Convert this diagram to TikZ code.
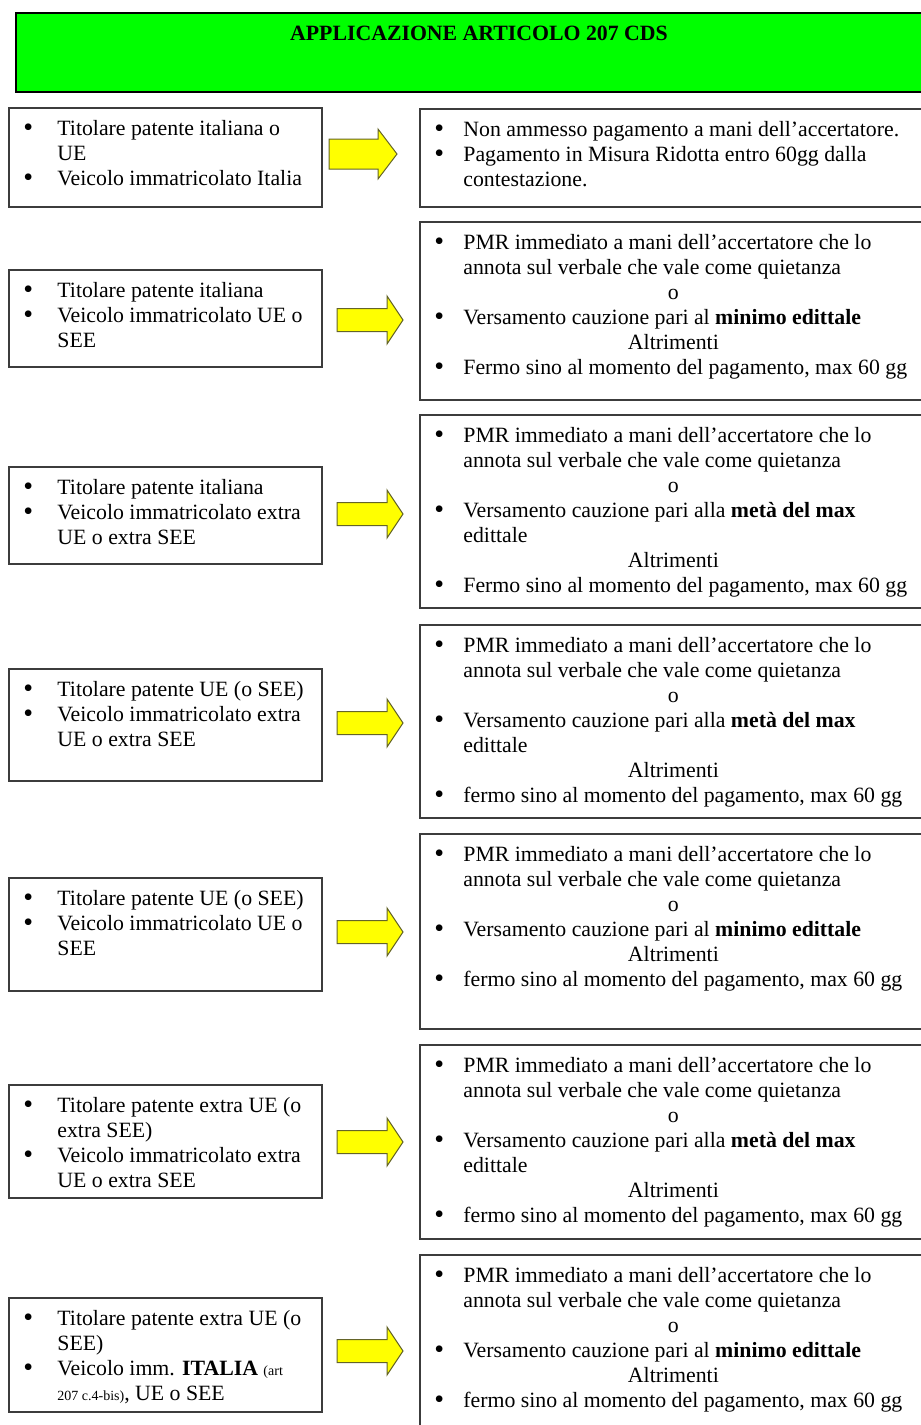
\documentclass[tikz,border=0pt]{standalone}
\usepackage{fontspec}
\setmainfont{Liberation Serif}
\definecolor{titlegreen}{RGB}{0,255,0}
\definecolor{arrowyellow}{RGB}{255,255,0}
\definecolor{arrowedge}{RGB}{100,100,40}
\definecolor{boxedge}{RGB}{60,60,60}
\newcommand\firststrut{\rule{0pt}{8pt}}
\newcommand\bigbul{\raisebox{-0.7pt}{\fontsize{14pt}{12pt}\selectfont •}}
\newcommand\lbul[1]{\makebox[17pt][l]{\bigbul}#1}
\newcommand\lcont[1]{\hspace*{17pt}#1}
\newcommand\rbul[1]{\makebox[14.5pt][l]{\bigbul}#1}
\newcommand\rcont[1]{\hspace*{14.5pt}#1}
\newcommand\midline[1]{\hspace*{119.5pt}\makebox[0pt]{#1}}
\newcommand\smalltxt[1]{{\fontsize{7pt}{8pt}\selectfont #1}}
\newcommand\blockarrow[6]{\draw[blockarr] (#1,{#4-#5}) -- (#2,{#4-#5}) -- (#2,{#4-#6}) -- (#3,#4) -- (#2,{#4+#6}) -- (#2,{#4+#5}) -- (#1,{#4+#5}) -- cycle;}
\begin{document}
\begin{tikzpicture}[x=0.5pt,y=-0.5pt,
  box/.style={draw=boxedge,line width=0.8pt,fill=white,inner sep=0,anchor=north west},
  txt/.style={anchor=north west,align=left,inner sep=0,font=\fontsize{10.9pt}{12.5pt}\selectfont},
  blockarr/.style={fill=arrowyellow,draw=arrowedge,line width=0.5pt,line join=miter}]
\useasboundingbox (0,0) rectangle (921,1425);
\clip (0,0) rectangle (921,1425);
% title
\node[box,fill=titlegreen,draw=black,minimum width=462.5pt,minimum height=39.5pt] (title) at (15,12) {};
\node[anchor=base,inner sep=0,font=\bfseries\fontsize{10.9pt}{12.5pt}\selectfont] (titletext) at (479,40) {APPLICAZIONE ARTICOLO 207 CDS};
% left boxes
\node[box,minimum width=156.5pt,minimum height=49.5pt] (L1) at (8,107) {};
\node[box,minimum width=156.5pt,minimum height=48.5pt] (L2) at (8,269) {};
\node[box,minimum width=156.5pt,minimum height=48.5pt] (L3) at (8,466) {};
\node[box,minimum width=156.5pt,minimum height=56pt] (L4) at (8,668) {};
\node[box,minimum width=156.5pt,minimum height=56.5pt] (L5) at (8,877) {};
\node[box,minimum width=156.5pt,minimum height=56.5pt] (L6) at (8,1084) {};
\node[box,minimum width=156.5pt,minimum height=57pt] (L7) at (8,1297) {};
% right boxes
\node[box,minimum width=260.5pt,minimum height=49pt] (R1) at (419,108) {};
\node[box,minimum width=260.5pt,minimum height=89pt] (R2) at (419,221) {};
\node[box,minimum width=260.5pt,minimum height=96.5pt] (R3) at (419,414) {};
\node[box,minimum width=260.5pt,minimum height=96.5pt] (R4) at (419,624) {};
\node[box,minimum width=260.5pt,minimum height=97.5pt] (R5) at (419,833) {};
\node[box,minimum width=260.5pt,minimum height=97pt] (R6) at (419,1044) {};
\node[box,minimum width=260.5pt,minimum height=93pt] (R7) at (419,1254) {};
% arrows
\blockarrow{329}{378}{397}{154}{15}{25}
\blockarrow{337}{387}{403}{320}{11.5}{24}
\blockarrow{337}{387}{403}{514}{11.5}{24}
\blockarrow{337}{387}{403}{723}{11.5}{24}
\blockarrow{337}{387}{403}{932}{11.5}{24}
\blockarrow{337}{387}{403}{1142}{11.5}{24}
\blockarrow{337}{387}{403}{1351}{11.5}{24}
% left texts
\node[txt] (tL1) at (23,119) {\firststrut\lbul{Titolare patente italiana o}\\\lcont{UE}\\\lbul{Veicolo immatricolato Italia}};
\node[txt] (tL2) at (23,281) {\firststrut\lbul{Titolare patente italiana}\\\lbul{Veicolo immatricolato UE o}\\\lcont{SEE}};
\node[txt] (tL3) at (23,478) {\firststrut\lbul{Titolare patente italiana}\\\lbul{Veicolo immatricolato extra}\\\lcont{UE o extra SEE}};
\node[txt] (tL4) at (23,680) {\firststrut\lbul{Titolare patente UE (o SEE)}\\\lbul{Veicolo immatricolato extra}\\\lcont{UE o extra SEE}};
\node[txt] (tL5) at (23,889) {\firststrut\lbul{Titolare patente UE (o SEE)}\\\lbul{Veicolo immatricolato UE o}\\\lcont{SEE}};
\node[txt] (tL6) at (23,1096) {\firststrut\lbul{Titolare patente extra UE (o}\\\lcont{extra SEE)}\\\lbul{Veicolo immatricolato extra}\\\lcont{UE o extra SEE}};
\node[txt] (tL7) at (23,1309) {\firststrut\lbul{Titolare patente extra UE (o}\\\lcont{SEE)}\\\lbul{Veicolo imm. \textbf{ITALIA} \smalltxt{(art}}\\\lcont{\smalltxt{207 c.4-bis)}, UE o SEE}};
% right texts
\node[txt] (tR1) at (434,120) {\firststrut\rbul{Non ammesso pagamento a mani dell’accertatore.}\\\rbul{Pagamento in Misura Ridotta entro 60gg dalla}\\\rcont{contestazione.}};
\node[txt] (tR2) at (434,233) {\firststrut\rbul{PMR immediato a mani dell’accertatore che lo}\\\rcont{annota sul verbale che vale come quietanza}\\\midline{o}\\\rbul{Versamento cauzione pari al \textbf{minimo edittale}}\\\midline{Altrimenti}\\\rbul{Fermo sino al momento del pagamento, max 60 gg}};
\node[txt] (tR3) at (434,426) {\firststrut\rbul{PMR immediato a mani dell’accertatore che lo}\\\rcont{annota sul verbale che vale come quietanza}\\\midline{o}\\\rbul{Versamento cauzione pari alla \textbf{metà del max}}\\\rcont{edittale}\\\midline{Altrimenti}\\\rbul{Fermo sino al momento del pagamento, max 60 gg}};
\node[txt] (tR4) at (434,636) {\firststrut\rbul{PMR immediato a mani dell’accertatore che lo}\\\rcont{annota sul verbale che vale come quietanza}\\\midline{o}\\\rbul{Versamento cauzione pari alla \textbf{metà del max}}\\\rcont{edittale}\\\midline{Altrimenti}\\\rbul{fermo sino al momento del pagamento, max 60 gg}};
\node[txt] (tR5) at (434,845) {\firststrut\rbul{PMR immediato a mani dell’accertatore che lo}\\\rcont{annota sul verbale che vale come quietanza}\\\midline{o}\\\rbul{Versamento cauzione pari al \textbf{minimo edittale}}\\\midline{Altrimenti}\\\rbul{fermo sino al momento del pagamento, max 60 gg}};
\node[txt] (tR6) at (434,1056) {\firststrut\rbul{PMR immediato a mani dell’accertatore che lo}\\\rcont{annota sul verbale che vale come quietanza}\\\midline{o}\\\rbul{Versamento cauzione pari alla \textbf{metà del max}}\\\rcont{edittale}\\\midline{Altrimenti}\\\rbul{fermo sino al momento del pagamento, max 60 gg}};
\node[txt] (tR7) at (434,1266) {\firststrut\rbul{PMR immediato a mani dell’accertatore che lo}\\\rcont{annota sul verbale che vale come quietanza}\\\midline{o}\\\rbul{Versamento cauzione pari al \textbf{minimo edittale}}\\\midline{Altrimenti}\\\rbul{fermo sino al momento del pagamento, max 60 gg}};
\end{tikzpicture}
\end{document}
